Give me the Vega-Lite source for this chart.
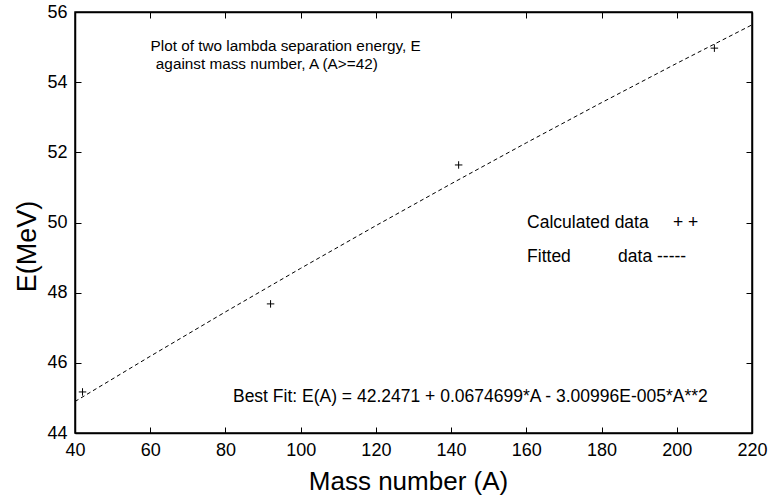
{
  "$schema": "https://vega.github.io/schema/vega-lite/v6.json",
  "width": 677,
  "height": 421,
  "autosize": {"type": "none"},
  "padding": {"left": 75, "top": 12, "right": 19, "bottom": 66},
  "background": "white",
  "config": {
    "view": {"stroke": "black", "strokeWidth": 1.5},
    "font": "Liberation Sans",
    "axis": {
      "grid": false,
      "domainColor": "black",
      "domainWidth": 1.5,
      "tickColor": "black",
      "tickWidth": 1,
      "labelColor": "black",
      "labelFont": "Liberation Sans",
      "labelFontSize": 18,
      "titleFont": "Liberation Sans",
      "titleFontWeight": "normal",
      "titleColor": "black"
    }
  },
  "datasets": {
    "fit": [
      {"A": 40, "E": 44.8977},
      {"A": 60, "E": 46.1869},
      {"A": 80, "E": 47.4521},
      {"A": 100, "E": 48.6931},
      {"A": 120, "E": 49.9101},
      {"A": 140, "E": 51.1029},
      {"A": 160, "E": 52.2717},
      {"A": 180, "E": 53.4165},
      {"A": 200, "E": 54.5371},
      {"A": 220, "E": 55.6337}
    ],
    "calc": [
      {"A": 42, "E": 45.17},
      {"A": 92, "E": 47.68},
      {"A": 142, "E": 51.64},
      {"A": 210, "E": 54.97}
    ],
    "heading": [
      {"A": 60.1, "E": 55.03, "label": "Plot of two lambda separation energy, E"},
      {"A": 61.5, "E": 54.53, "label": "against mass number, A (A>=42)"}
    ],
    "notes": [
      {"A": 160.2, "E": 49.98, "label": "Calculated data"},
      {"A": 199.0, "E": 49.98, "label": "+ +"},
      {"A": 160.2, "E": 49.01, "label": "Fitted"},
      {"A": 184.4, "E": 49.01, "label": "data -----"},
      {"A": 82.0, "E": 45.03, "label": "Best Fit: E(A) = 42.2471 + 0.0674699*A - 3.00996E-005*A**2"}
    ]
  },
  "resolve": {"axis": {"x": "independent", "y": "independent"}},
  "layer": [
    {
      "data": {"name": "fit"},
      "mark": {"type": "line", "color": "black", "strokeWidth": 1, "strokeDash": [4, 3], "clip": true},
      "encoding": {
        "x": {
          "field": "A", "type": "quantitative",
          "scale": {"domain": [40, 220], "nice": false, "zero": false},
          "axis": {
            "orient": "bottom", "values": [40, 60, 80, 100, 120, 140, 160, 180, 200, 220],
            "tickSize": -6, "labelPadding": 14, "labelFlush": false,
            "title": "Mass number (A)", "titleFontSize": 26,
            "titleX": 333, "titleY": 48, "titleBaseline": "middle", "titleAlign": "center"
          }
        },
        "y": {
          "field": "E", "type": "quantitative",
          "scale": {"domain": [44, 56], "nice": false, "zero": false},
          "axis": {
            "orient": "left", "values": [44, 46, 48, 50, 52, 54, 56],
            "tickSize": -6, "labelPadding": 14, "labelFlush": false,
            "title": "E(MeV)", "titleFontSize": 27,
            "titleX": -48, "titleY": 234, "titleBaseline": "middle", "titleAlign": "center", "titleAngle": 270
          }
        }
      }
    },
    {
      "data": {"name": "calc"},
      "mark": {"type": "point", "shape": "M-1,0L1,0M0,-1L0,1", "size": 56, "filled": false, "stroke": "black", "strokeWidth": 1, "opacity": 1},
      "encoding": {
        "x": {
          "field": "A", "type": "quantitative",
          "axis": {"orient": "top", "values": [40, 60, 80, 100, 120, 140, 160, 180, 200, 220], "labels": false, "tickSize": -6, "title": null}
        },
        "y": {
          "field": "E", "type": "quantitative",
          "axis": {"orient": "right", "values": [44, 46, 48, 50, 52, 54, 56], "labels": false, "tickSize": -6, "title": null}
        }
      }
    },
    {
      "data": {"name": "heading"},
      "mark": {"type": "text", "align": "left", "baseline": "middle", "fontSize": 15.3, "font": "Liberation Sans", "color": "black"},
      "encoding": {
        "x": {"field": "A", "type": "quantitative", "axis": null},
        "y": {"field": "E", "type": "quantitative", "axis": null},
        "text": {"field": "label"}
      }
    },
    {
      "data": {"name": "notes"},
      "mark": {"type": "text", "align": "left", "baseline": "middle", "fontSize": 17.5, "font": "Liberation Sans", "color": "black"},
      "encoding": {
        "x": {"field": "A", "type": "quantitative", "axis": null},
        "y": {"field": "E", "type": "quantitative", "axis": null},
        "text": {"field": "label"}
      }
    }
  ]
}
